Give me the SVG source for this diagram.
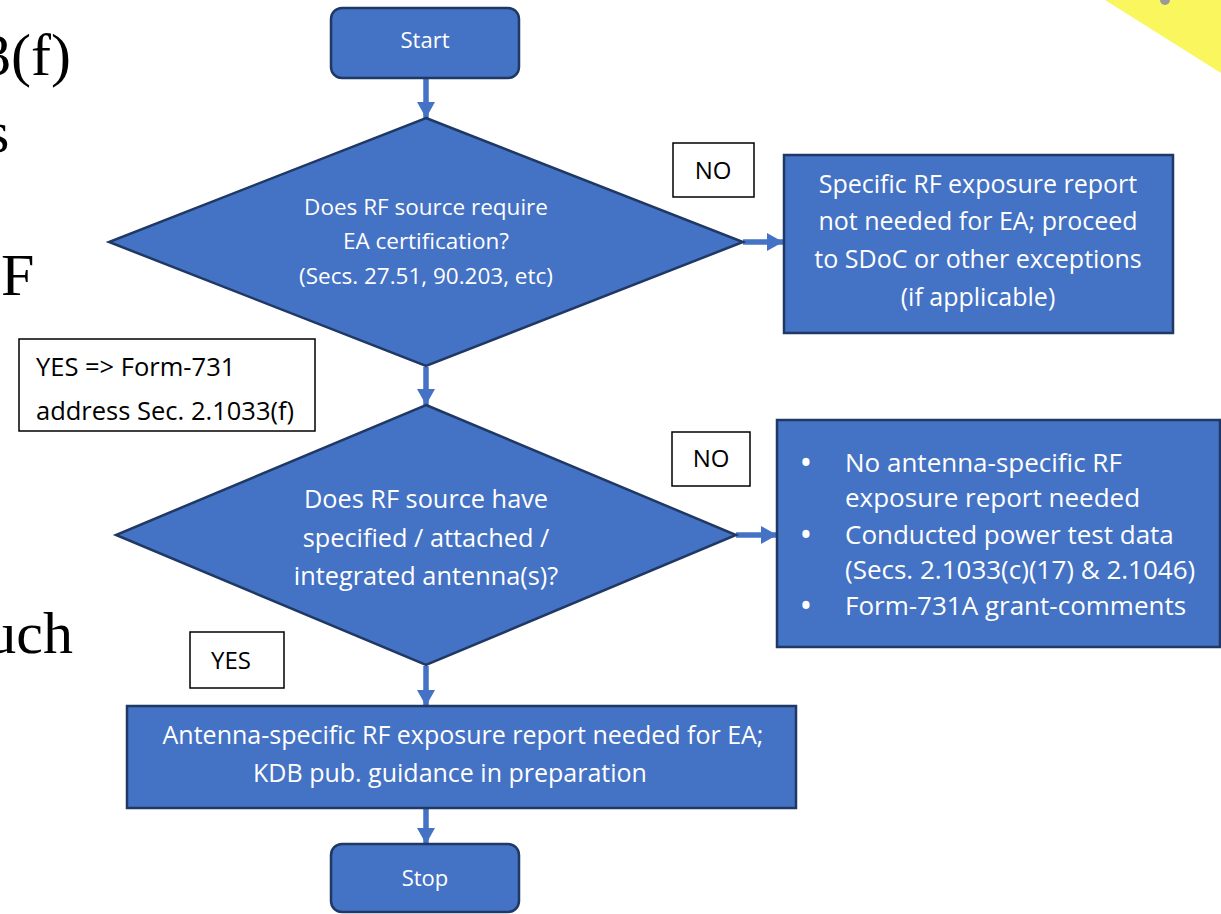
<svg xmlns="http://www.w3.org/2000/svg" width="1221" height="914" viewBox="0 0 1221 914">
<defs>
<style>
.shape{fill:#4472C4;stroke:#1F3864;stroke-width:2.5}
.lbl{fill:#fff;stroke:#000;stroke-width:1.5}
.wt{fill:#fff;font-family:"Open Sans","Noto Sans",sans-serif;font-size:25px;text-anchor:middle}
.bt{fill:#000;font-family:"Open Sans","Noto Sans",sans-serif;font-size:24px}
.bg{fill:#000;font-family:"Liberation Serif","Times New Roman",serif;font-size:60px}
.conn{stroke:#4472C4;stroke-width:5.5;fill:none}
.bul{fill:#fff}
</style>
<marker id="ah" markerUnits="userSpaceOnUse" markerWidth="16" markerHeight="18" refX="16" refY="9" orient="auto">
<path d="M0,0 L16,9 L0,18 Z" fill="#4472C4"/>
</marker>
</defs>
<rect width="1221" height="914" fill="#fff"/>
<g id="background">
<text class="bg" x="71" y="75" text-anchor="end">3(f)</text>
<text class="bg" x="-14" y="152">s</text>
<text class="bg" x="1" y="295">F</text>
<text class="bg" x="73" y="653" text-anchor="end">uch</text>
<polygon points="1105,0 1221,0 1221,73" fill="#F9F65E"/>
<circle cx="1165" cy="0" r="5" fill="#9a9a9a"/>
</g>
<g id="connectors">
<line class="conn" x1="426" y1="79" x2="426" y2="118" marker-end="url(#ah)"/>
<line class="conn" x1="743" y1="242" x2="783" y2="242" marker-end="url(#ah)"/>
<line class="conn" x1="426" y1="367" x2="426" y2="405" marker-end="url(#ah)"/>
<line class="conn" x1="736" y1="535" x2="777" y2="535" marker-end="url(#ah)"/>
<line class="conn" x1="426" y1="666" x2="426" y2="706" marker-end="url(#ah)"/>
<line class="conn" x1="426" y1="809" x2="426" y2="844" marker-end="url(#ah)"/>
</g>
<g id="start">
<rect class="shape" x="331" y="8" width="188" height="70" rx="11"/>
<text class="wt" x="425" y="48" style="font-size:22px">Start</text>
</g>
<g id="decision1">
<polygon class="shape" points="426,118 743,242 426,366 109,242"/>
<text class="wt" x="426" y="215" style="font-size:22.5px">Does RF source require</text>
<text class="wt" x="426" y="249" style="font-size:22.5px">EA certification?</text>
<text class="wt" x="426" y="284" style="font-size:22.5px">(Secs. 27.51, 90.203, etc)</text>
</g>
<g id="no1">
<rect class="lbl" x="673" y="143" width="81" height="54"/>
<text class="bt" x="713" y="179" text-anchor="middle">NO</text>
</g>
<g id="box1">
<rect class="shape" x="784" y="155" width="389" height="178"/>
<text class="wt" x="978" y="193">Specific RF exposure report</text>
<text class="wt" x="978" y="230">not needed for EA; proceed</text>
<text class="wt" x="978" y="268">to SDoC or other exceptions</text>
<text class="wt" x="978" y="306">(if applicable)</text>
</g>
<g id="yesform">
<rect class="lbl" x="19" y="339" width="296" height="92"/>
<text class="bt" x="36" y="376" style="font-size:25.5px">YES =&gt; Form-731</text>
<text class="bt" x="36" y="420" style="font-size:25.5px">address Sec. 2.1033(f)</text>
</g>
<g id="decision2">
<polygon class="shape" points="426,405 736,535 426,665 116,535"/>
<text class="wt" x="426" y="508" style="font-size:25.3px">Does RF source have</text>
<text class="wt" x="426" y="547" style="font-size:25.3px">specified / attached /</text>
<text class="wt" x="426" y="585" style="font-size:25.3px">integrated antenna(s)?</text>
</g>
<g id="no2">
<rect class="lbl" x="672" y="432" width="78" height="54"/>
<text class="bt" x="711" y="467" text-anchor="middle">NO</text>
</g>
<g id="box2">
<rect class="shape" x="777" y="420" width="443" height="227"/>
<g class="wt" style="text-anchor:middle;font-size:34px">
<text x="806" y="475">•</text>
<text x="806" y="547">•</text>
<text x="806" y="618">•</text>
</g>
<g class="wt" style="text-anchor:start;font-size:26px">
<text x="845" y="472">No antenna-specific RF</text>
<text x="845" y="507">exposure report needed</text>
<text x="845" y="544">Conducted power test data</text>
<text x="845" y="579">(Secs. 2.1033(c)(17) &amp; 2.1046)</text>
<text x="845" y="615">Form-731A grant-comments</text>
</g>
</g>
<g id="yes2">
<rect class="lbl" x="190" y="632" width="94" height="56"/>
<text class="bt" x="231" y="669" text-anchor="middle">YES</text>
</g>
<g id="box3">
<rect class="shape" x="127" y="706" width="669" height="102"/>
<text class="wt" x="463" y="744">Antenna-specific RF exposure report needed for EA;</text>
<text class="wt" x="450" y="782">KDB pub. guidance in preparation</text>
</g>
<g id="stop">
<rect class="shape" x="331" y="844" width="188" height="68" rx="11"/>
<text class="wt" x="425" y="886" style="font-size:22px">Stop</text>
</g>
</svg>
